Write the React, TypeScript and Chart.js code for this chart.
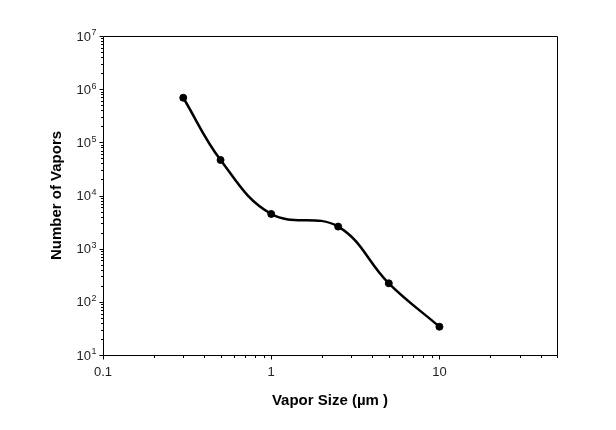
import React, { useEffect, useRef } from 'react';
import { Chart, registerables } from 'chart.js';

Chart.register(...registerables);

// Data
const vaporSizes = [0.3, 0.5, 1, 2.5, 5, 10];
const vaporCounts = [690000, 46500, 4500, 2600, 223, 34];

// Axis ranges and ticks
const xMin = 0.1;
const xMax = 50;
const yMin = 10;
const yMax = 1e7;
const xTickValues = [0.1, 0.2, 0.3, 0.4, 0.5, 0.6, 0.7, 0.8, 0.9, 1, 2, 3, 4, 5, 6, 7, 8, 9, 10, 20, 30, 40, 50];
const xTickLabels: Record<string, string> = { '0.1': '0.1', '1': '1', '10': '10' };
const yMajorValues = [10, 100, 1000, 10000, 100000, 1000000, 10000000];
const yTickBase = '10';
const yTickExponents = ['1', '2', '3', '4', '5', '6', '7'];
const yMinorMultipliers = [2, 3, 4, 5, 6, 7, 8, 9];

const xTitle = 'Vapor Size (µm )';
const yTitle = 'Number of Vapors';

const FONT = 'Liberation Sans, Arial, sans-serif';
const isMajor = (v: number) => Math.abs(Math.log10(v) - Math.round(Math.log10(v))) < 1e-9;

const frameAndTicks = {
  id: 'frameAndTicks',
  afterDraw(chart: any) {
    const { ctx, chartArea: a, scales } = chart;
    ctx.save();
    ctx.strokeStyle = '#000';
    ctx.lineWidth = 1;
    const l = Math.round(a.left) + 0.5;
    const t = Math.round(a.top) + 0.5;
    const r = Math.round(a.right) + 0.5;
    const b = Math.round(a.bottom) + 0.5;
    ctx.beginPath();
    ctx.rect(l, t, r - l, b - t);
    ctx.stroke();
    ctx.beginPath();
    for (const tk of scales.x.ticks) {
      const px = Math.round(scales.x.getPixelForValue(tk.value)) + 0.5;
      const len = isMajor(tk.value) ? 4 : 2.5;
      ctx.moveTo(px, b);
      ctx.lineTo(px, b + len);
    }
    for (const tk of scales.y.ticks) {
      const py = Math.round(scales.y.getPixelForValue(tk.value)) + 0.5;
      const len = isMajor(tk.value) ? 4 : 2.5;
      ctx.moveTo(l, py);
      ctx.lineTo(l - len, py);
    }
    ctx.stroke();

    // y tick labels: 10 with superscript exponent
    ctx.fillStyle = '#222';
    ctx.textBaseline = 'middle';
    yMajorValues.forEach((v, i) => {
      const py = scales.y.getPixelForValue(v) + 1;
      const right = l - 7;
      ctx.font = `9px ${FONT}`;
      ctx.textAlign = 'right';
      const ew = ctx.measureText(yTickExponents[i]).width;
      ctx.fillText(yTickExponents[i], right, py - 4);
      ctx.font = `13px ${FONT}`;
      ctx.fillText(yTickBase, right - ew - 0.5, py);
    });
    ctx.restore();
  },
};

export default function App() {
  const ref = useRef<HTMLCanvasElement | null>(null);
  useEffect(() => {
    if (!ref.current) return;
    const yTicks: number[] = [];
    yMajorValues.forEach((m, i) => {
      yTicks.push(m);
      if (i < yMajorValues.length - 1) yMinorMultipliers.forEach((k) => yTicks.push(m * k));
    });
    const chart = new Chart(ref.current, {
      type: 'line',
      data: {
        datasets: [
          {
            data: vaporSizes.map((x, i) => ({ x, y: vaporCounts[i] })),
            borderColor: '#000',
            backgroundColor: '#000',
            borderWidth: 2.5,
            pointRadius: 3.5,
            pointBorderWidth: 1,
            pointBackgroundColor: '#000',
            pointBorderColor: '#000',
            tension: 0.4,
            fill: false,
          },
        ],
      },
      plugins: [frameAndTicks],
      options: {
        animation: false,
        responsive: false,
        devicePixelRatio: 1,
        layout: { padding: { left: 0, right: 51, top: 28, bottom: 0 } },
        plugins: { legend: { display: false }, tooltip: { enabled: false } },
        scales: {
          x: {
            type: 'logarithmic',
            min: xMin,
            max: xMax,
            afterBuildTicks: (s: any) => {
              s.ticks = xTickValues.map((v) => ({ value: v }));
            },
            afterFit: (s: any) => {
              s.height = 67;
            },
            grid: { display: true, drawOnChartArea: false, drawTicks: true, tickLength: 4, tickColor: 'rgba(0,0,0,0)' },
            border: { display: false },
            ticks: {
              autoSkip: false,
              maxRotation: 0,
              padding: 6,
              color: '#222',
              font: { family: FONT, size: 13 },
              callback: (v: any) => xTickLabels[String(v)] ?? '',
            },
            title: {
              display: true,
              text: xTitle,
              color: '#000',
              font: { family: FONT, size: 15, weight: 'bold' },
              padding: { top: 0, bottom: 12 },
            },
          },
          y: {
            type: 'logarithmic',
            min: yMin,
            max: yMax,
            afterBuildTicks: (s: any) => {
              s.ticks = yTicks.map((v) => ({ value: v }));
            },
            afterFit: (s: any) => {
              s.width = 95;
            },
            grid: { display: false },
            border: { display: false },
            ticks: { display: false },
            title: {
              display: true,
              text: yTitle,
              color: '#000',
              font: { family: FONT, size: 15, weight: 'bold' },
              padding: { top: 40, bottom: 0 },
            },
          },
        },
      },
    });
    return () => chart.destroy();
  }, []);
  return (
    <div style={{ width: 600, height: 414 }}>
      <canvas ref={ref} width={600} height={414} style={{ display: 'block' }} />
    </div>
  );
}
